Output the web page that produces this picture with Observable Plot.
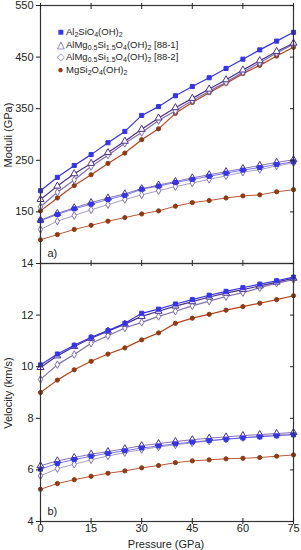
<!DOCTYPE html>
<html>
<head>
<meta charset="utf-8">
<script src="https://cdn.jsdelivr.net/npm/d3@7"></script>
<script src="https://cdn.jsdelivr.net/npm/@observablehq/plot@0.6"></script>
<style>
  html, body { margin: 0; padding: 0; background: #fff; }
  #wrap { position: relative; width: 301px; height: 550px; font-family: "Liberation Sans", Arial, sans-serif; color: #222; }
  #topPanel, #botPanel { position: absolute; left: 0; }
  #topPanel { top: 0; }
  #botPanel { top: 258px; }
  .ylab { position: absolute; font-size: 11px; transform: translate(-50%, -50%) rotate(-90deg); white-space: nowrap; }
  .xlab { position: absolute; font-size: 11px; transform: translate(-50%, -50%); white-space: nowrap; }
  #legend { position: absolute; left: 55px; top: 26px; font-size: 9.5px; line-height: 12.7px; }
  #legend div { white-space: nowrap; }
  #legend sub { font-size: 7px; vertical-align: -2px; line-height: 0; }
  #legend .m { display: inline-block; width: 11px; text-align: center; font-size: 10px; }
</style>
</head>
<body>
<div id="wrap">
  <div id="topPanel"></div>
  <div id="botPanel"></div>
  <div class="ylab" style="left:8px; top:135px;">Moduli (GPa)</div>
  <div class="ylab" style="left:8px; top:393px;">Velocity (km/s)</div>
  <div class="xlab" style="left:166px; top:544px;">Pressure (GPa)</div>
  <div id="legend">
    <div><span class="m" style="color:#3535e6">■</span>Al<sub>2</sub>SiO<sub>4</sub>(OH)<sub>2</sub></div>
    <div><span class="m" style="color:#4a2f8f">△</span>AlMg<sub>0.5</sub>Si<sub>1.5</sub>O<sub>4</sub>(OH)<sub>2</sub> [88-1]</div>
    <div><span class="m" style="color:#7f6fb0">◇</span>AlMg<sub>0.5</sub>Si<sub>1.5</sub>O<sub>4</sub>(OH)<sub>2</sub> [88-2]</div>
    <div><span class="m" style="color:#9a3a14">●</span>MgSi<sub>2</sub>O<sub>4</sub>(OH)<sub>2</sub></div>
  </div>
</div>
<script>
// ---- data ----
const pressure = [0, 5, 10, 15, 20, 25, 30, 35, 40, 45, 50, 55, 60, 65, 70, 75];
const seriesNames = ["Al2SiO4(OH)2", "AlMg0.5Si1.5O4(OH)2 [88-1]", "AlMg0.5Si1.5O4(OH)2 [88-2]", "MgSi2O4(OH)2"];
const seriesColors = ["#3535e6", "#4a2f8f", "#7f6fb0", "#b5441c"];
const seriesSymbols = ["square", "triangle", "diamond", "circle"];
const seriesFills = ["#3535e6", "white", "white", "#8e3a14"];

// moduli (GPa): K (upper) and G (lower)
const alK = [191, 217, 240, 261, 284, 306, 337, 354, 375, 393, 410, 428, 446, 464, 481, 498];
const a1K = [174, 200, 224, 244, 265, 287, 310, 332, 352, 370, 388, 406, 425, 443, 461, 477];
const a2K = [160, 188, 212, 238, 260, 283, 304, 327, 346, 366, 384, 401, 421, 439, 458, 475];
const mgK = [152, 177, 201, 222, 244, 264, 290, 311, 341, 362, 381, 399, 418, 434, 452, 469];
const alG = [133, 145, 156, 165, 174, 182, 194, 200, 207, 213, 219, 225, 231, 236, 242, 247];
const a1G = [134, 147, 158, 168, 177, 185, 195, 202, 209, 216, 222, 228, 234, 240, 246, 251];
const a2G = [116, 132, 143, 154, 164, 174, 183, 191, 199, 206, 213, 220, 227, 232, 239, 245];
const mgG = [96, 106, 116, 124, 132, 139, 146, 152, 161, 168, 172, 177, 181, 183, 189, 193];

// velocities (km/s): Vp (upper) and Vs (lower)
const alVp = [10.07, 10.49, 10.83, 11.14, 11.40, 11.68, 12.07, 12.23, 12.43, 12.60, 12.77, 12.92, 13.06, 13.20, 13.33, 13.47];
const a1Vp = [9.97, 10.42, 10.78, 11.10, 11.38, 11.65, 11.95, 12.15, 12.35, 12.52, 12.70, 12.85, 12.99, 13.13, 13.28, 13.43];
const a2Vp = [9.51, 10.08, 10.47, 10.91, 11.20, 11.50, 11.72, 11.95, 12.15, 12.36, 12.54, 12.72, 12.87, 13.06, 13.24, 13.37];
const mgVp = [9.00, 9.48, 9.88, 10.21, 10.49, 10.73, 11.04, 11.31, 11.68, 11.88, 12.03, 12.19, 12.33, 12.46, 12.60, 12.75];
const alVs = [6.03, 6.25, 6.40, 6.53, 6.64, 6.74, 6.85, 6.93, 7.01, 7.08, 7.14, 7.19, 7.24, 7.28, 7.32, 7.36];
const a1Vs = [6.16, 6.35, 6.48, 6.61, 6.71, 6.82, 6.94, 7.02, 7.10, 7.17, 7.23, 7.28, 7.33, 7.37, 7.41, 7.45];
const a2Vs = [5.77, 6.05, 6.22, 6.39, 6.54, 6.67, 6.79, 6.89, 6.97, 7.05, 7.12, 7.19, 7.25, 7.31, 7.36, 7.39];
const mgVs = [5.25, 5.47, 5.62, 5.75, 5.87, 5.96, 6.08, 6.17, 6.28, 6.35, 6.39, 6.43, 6.45, 6.48, 6.53, 6.58];

const xTicks = [0, 15, 30, 45, 60, 75];
const moduliTicks = [150, 250, 350, 450, 550];
const velocityTicks = [4, 6, 8, 10, 12, 14];

// ---- build tables ----
function rows(vals, s, prop, upper) {
  return pressure.map((p, i) => ({p, v: vals[i], s, key: s + "|" + prop, upper}));
}
const moduli = [
  ...rows(alK, 0, "K", true), ...rows(a1K, 1, "K", true), ...rows(a2K, 2, "K", true), ...rows(mgK, 3, "K", true),
  ...rows(alG, 0, "G", false), ...rows(a1G, 1, "G", false), ...rows(a2G, 2, "G", false), ...rows(mgG, 3, "G", false)
];
const velocity = [
  ...rows(alVp, 0, "Vp", true), ...rows(a1Vp, 1, "Vp", true), ...rows(a2Vp, 2, "Vp", true), ...rows(mgVp, 3, "Vp", true),
  ...rows(alVs, 0, "Vs", false), ...rows(a1Vs, 1, "Vs", false), ...rows(a2Vs, 2, "Vs", false), ...rows(mgVs, 3, "Vs", false)
];

function seriesMarks(data) {
  const marks = [];
  for (const s of [3, 2, 1, 0]) {
    for (const upper of [true, false]) {
      const d = data.filter(r => r.s === s && r.upper === upper);
      marks.push(Plot.line(d, {
        x: "p", y: "v",
        stroke: seriesColors[s],
        strokeWidth: upper ? 1.2 : 0.9,
        strokeOpacity: upper || s === 3 ? 1 : 0.75
      }));
      marks.push(Plot.dot(d, {
        x: "p", y: "v",
        symbol: () => seriesSymbols[s],
        r: s === 3 ? 2.1 : (s === 1 ? 2.6 : 2.3),
        fill: seriesFills[s],
        stroke: s === 3 ? "#8e3a14" : seriesColors[s],
        strokeWidth: 1
      }));
    }
  }
  return marks;
}

const common = {
  width: 301,
  marginLeft: 40,
  marginRight: 8,
  x: {domain: [0, 75]},
  style: {fontFamily: "'Liberation Sans', Arial, sans-serif", fontSize: "11px", color: "#222", background: "transparent", overflow: "visible"}
};

const topPlot = Plot.plot({
  ...common,
  height: 268,
  marginTop: 5,
  marginBottom: 5,
  y: {domain: [50, 550]},
  marks: [
    ...seriesMarks(moduli),
    Plot.frame({stroke: "#333", strokeWidth: 1.2}),
    Plot.axisY({ticks: moduliTicks, tickSize: 4, tickPadding: 3, label: null, tickFormat: d3.format("d")}),
    Plot.axisY({anchor: "right", ticks: moduliTicks, tickSize: 4, dx: -4, text: null, label: null}),
    Plot.axisX({anchor: "top", ticks: xTicks, tickSize: 6, dy: 3, text: null, label: null}),
    Plot.axisX({anchor: "bottom", ticks: xTicks, tickSize: 6, dy: -3, text: null, label: null}),
    Plot.text(["a)"], {frameAnchor: "bottom-left", dx: 7, dy: -7, fontSize: 11})
  ]
});
document.getElementById("topPanel").appendChild(topPlot);

const botPlot = Plot.plot({
  ...common,
  height: 292,
  marginTop: 5,
  marginBottom: 29,
  y: {domain: [4, 14]},
  marks: [
    ...seriesMarks(velocity),
    Plot.frame({stroke: "#333", strokeWidth: 1.2}),
    Plot.axisY({ticks: velocityTicks, tickSize: 4, tickPadding: 3, label: null}),
    Plot.axisY({anchor: "right", ticks: velocityTicks, tickSize: 4, dx: -4, text: null, label: null}),
    Plot.axisX({anchor: "bottom", ticks: xTicks, tickSize: 0, tickPadding: 3, label: null}),
    Plot.axisX({anchor: "bottom", ticks: xTicks, tickSize: 6, dy: -3, text: null, label: null}),
    Plot.text(["b)"], {frameAnchor: "bottom-left", dx: 7, dy: -7, fontSize: 11})
  ]
});
document.getElementById("botPanel").appendChild(botPlot);
</script>
</body>
</html>
